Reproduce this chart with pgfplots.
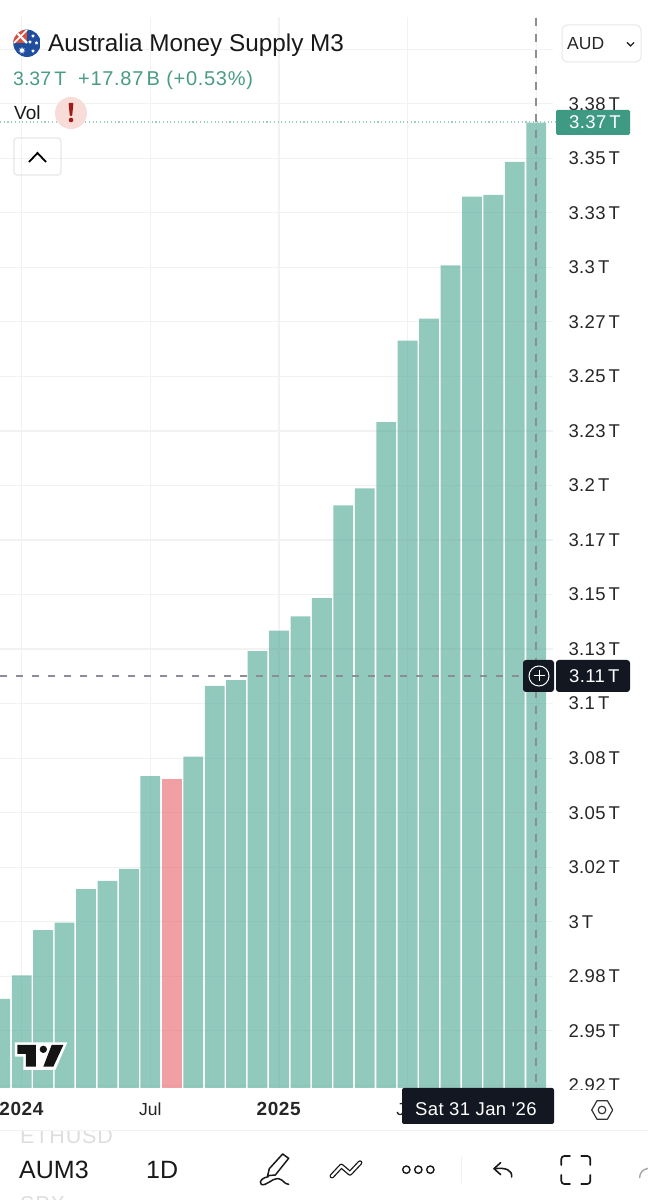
\documentclass[border=0pt]{standalone}
\usepackage{fontspec}
\setmainfont{Liberation Sans}
\newfontfamily\plainfont{Liberation Sans}
\usepackage{pgfplots}
\usepackage{pgfplotstable}
\pgfplotsset{compat=1.18}
\usetikzlibrary{shapes.geometric}

\definecolor{barup}{HTML}{4AA591}
\definecolor{bardown}{HTML}{E66167}
\definecolor{gridc}{HTML}{F2F2F3}
\definecolor{upgreen}{HTML}{4A9C85}
\definecolor{badge}{HTML}{3F9A84}
\definecolor{darkbox}{HTML}{131722}
\definecolor{crossc}{HTML}{8A8E96}
\definecolor{boxline}{HTML}{E6E7E9}
\definecolor{flagblue}{HTML}{1F4E9E}
\definecolor{flagred}{HTML}{D9503F}
\newcommand{\fs}[1]{\fontsize{#1}{#1}\selectfont}
\newcommand{\wide}[1]{\addfontfeatures{LetterSpace=#1}}

% month 0 = Jan 2024
\pgfplotstableread{
m v
-1 2.9646
0 2.9754
1 2.9962
2 2.9996
3 3.0150
4 3.0187
5 3.0242
6 3.0668
8 3.0757
9 3.1081
10 3.1108
11 3.1241
12 3.1334
13 3.1400
14 3.1484
15 3.1909
16 3.1987
17 3.2291
18 3.2664
19 3.2765
20 3.3009
21 3.3324
22 3.3332
23 3.3484
24 3.3663
}\upbars
\pgfplotstableread{
m v
7 3.0656
}\downbars

\begin{document}
\begin{tikzpicture}
\useasboundingbox (0pt,0pt) rectangle (648pt,1200pt);
\fill[white] (0pt,0pt) rectangle (648pt,1200pt);
\begin{axis}[
    at={(0pt,112pt)}, anchor=south west,
    scale only axis, width=553pt, height=1071pt,
    xmin=-1.012, xmax=24.78,
    ymin=2.92377, ymax=3.41478,
    ybar, bar width=19.8pt, bar shift=0pt,
    axis line style={draw=none},
    major tick length=0pt,
    grid=major, grid style={gridc, line width=1.2pt},
    xtick={0,6,12,18,24},
    xticklabels={{\fs{19}\wide{3}\textbf{2024}},Jul,{\fs{19}\wide{3}\textbf{2025}},Jul,},
    xticklabel style={font=\fs{17.5}, anchor=base, yshift=-28pt},
    ytick={2.925,2.95,2.975,3,3.025,3.05,3.075,3.1,3.125,3.15,3.175,3.2,3.225,3.25,3.275,3.3,3.325,3.35,3.375,3.4},
    yticklabels={2.92\,T,2.95\,T,2.98\,T,3\,T,3.02\,T,3.05\,T,3.08\,T,3.1\,T,3.13\,T,3.15\,T,3.17\,T,3.2\,T,3.23\,T,3.25\,T,3.27\,T,3.3\,T,3.33\,T,3.35\,T,3.38\,T,},
    ticklabel style={text=black!85},
    yticklabel pos=right,
    yticklabel style={font=\fs{18.5}\wide{2}, anchor=west, xshift=12pt},
]
\addplot[fill=barup, fill opacity=0.6, draw=none] table[x=m,y=v] {\upbars};
\addplot[fill=bardown, fill opacity=0.6, draw=none] table[x=m,y=v] {\downbars};
\end{axis}

\begin{scope}[shift={(0pt,1200pt)}, x=1pt, y=-1pt]
% last value and crosshair
\draw[barup!55, line width=1.1pt, dash pattern=on 1.1pt off 2.6pt] (0,122) -- (556,122);
\draw[crossc, line width=1.1pt, dash pattern=on 8pt off 8pt] (536,18) -- (536,1088);
\draw[crossc, line width=1.1pt, dash pattern=on 7pt off 9pt] (0,676) -- (523,676);

% price labels on the scale
\fill[badge, rounded corners=1.5pt] (556,110) rectangle (630,135);
\node[anchor=base west, inner sep=0, text=white, font=\fs{18.5}\wide{2}] at (569,129) {3.37\,T};
\fill[darkbox, rounded corners=3pt] (523,660) rectangle (554,692);
\fill[darkbox, rounded corners=3pt] (556,660) rectangle (630,692);
\draw[white, line width=1pt] (539,676) circle (10);
\draw[white, line width=1pt] (533.5,676) -- (544.5,676) (539,670.5) -- (539,681.5);
\node[anchor=base west, inner sep=0, text=white, font=\fs{18.5}\wide{2}] at (569,682.5) {3.11\,T};

% 2.92 T is cut off by the time scale
\fill[white] (560,1090) rectangle (640,1100);

% header
\begin{scope}
\clip (27,43.3) circle (13.7);
\fill[flagblue] (13,29) rectangle (41,57);
\fill[flagred] (13,29) rectangle (27,43);
\draw[white, line width=2.4pt] (14,30) -- (27,43);
\draw[white, line width=1.6pt] (14,43) -- (27,30);
\node[star, star points=7, star point ratio=2, fill=white, inner sep=0, minimum size=7pt] at (22,50.5) {};
\node[star, star points=5, fill=white, inner sep=0, minimum size=3.5pt] at (33,36) {};
\node[star, star points=5, fill=white, inner sep=0, minimum size=3.5pt] at (36.5,43) {};
\node[star, star points=5, fill=white, inner sep=0, minimum size=3.5pt] at (30,42) {};
\node[star, star points=5, fill=white, inner sep=0, minimum size=3.5pt] at (33,51) {};
\end{scope}
\node[anchor=base west, inner sep=0, text=black!90, font=\fs{24.3}] at (48,52) {Australia Money Supply M3};
\node[anchor=base west, inner sep=0, text=upgreen, font=\fs{19.5}] at (13,86) {3.37\,T};
\node[anchor=base west, inner sep=0, text=upgreen, font=\fs{20}\wide{3.5}] at (78,86) {+17.87\,B (+0.53\%)};
\node[anchor=base west, inner sep=0, text=black!90, font=\fs{19}] at (14,120) {Vol};
\fill[flagred!20] (71,113) circle (16);
\fill[red!60!black!90, rounded corners=0.8pt] (68.6,103) -- (73.4,103) -- (72.2,116) -- (69.8,116) -- cycle;
\fill[red!60!black!90] (71,120) circle (2.3);
\draw[boxline, line width=1.2pt, rounded corners=3pt] (14,138) rectangle (61,175);
\draw[black, line width=1.8pt] (29,162) -- (37.5,153) -- (46,162);
\draw[boxline, line width=1pt, rounded corners=5pt] (562,25) rectangle (641,62);
\node[anchor=base west, inner sep=0, text=black!85, font=\fs{17.5}] at (567,49.5) {AUD};
\draw[black!85, line width=1.4pt] (627,42.5) -- (630.5,46) -- (634,42.5);

% TradingView mark
\begin{scope}[shift={(0,1030)}, x=1/3*1pt, y=-1/3*1pt]
\fill[white] (45,37) -- (202,37) -- (166,120) -- (70,120) -- (70,80) -- (45,80) -- cycle;
\fill[black!92] (52,45) -- (108,45) -- (108,110) -- (78,110) -- (78,72) -- (52,72) -- cycle;
\fill[black!92] (155,45) -- (190,45) -- (160,110) -- (130,110) -- cycle;
\fill[black!92] (130,58) circle (11);
\end{scope}

% time label
\fill[darkbox, rounded corners=2pt] (402,1088) rectangle (554,1124);
\node[anchor=base west, inner sep=0, text=white, font=\plainfont\fs{18.5}\wide{2}] at (415,1116) {Sat 31 Jan \symbol{39}26};
\draw[black!80, line width=1.2pt, line join=round] (591.7,1110) -- (597,1100.8) -- (607.4,1100.8) -- (612.7,1110) -- (607.4,1119.2) -- (597,1119.2) -- cycle;
\draw[black!80, line width=1.2pt] (602,1110) circle (3.8);

% toolbar
\draw[gridc, line width=1pt] (0,1130.5) -- (648,1130.5);
\begin{scope}
\clip (0,1131.5) rectangle (120,1200);
\node[anchor=base west, inner sep=0, text=black!13, font=\fs{21.5}\wide{4}] at (20,1144) {ETHUSD};
\node[anchor=base west, inner sep=0, text=black!13, font=\fs{21.5}\wide{4}] at (20,1211) {SPX};
\end{scope}
\node[anchor=base west, inner sep=0, text=black!90, font=\fs{25}] at (19,1179) {AUM3};
\node[anchor=base west, inner sep=0, text=black!90, font=\fs{25}] at (146,1179) {1D};

\begin{scope}[shift={(0,1030)}, x=1/3*1pt, y=-1/3*1pt]
\draw[black!90, line width=1.5pt, line join=round, line cap=round] (848,372) -- (866,385) -- (826,435) -- (803,437) -- (808,416) -- cycle;
\draw[black!90, line width=1.5pt, line cap=round] (805,440) .. controls (775,445) and (775,470) .. (795,463) .. controls (815,455) and (825,438) .. (845,450) .. controls (855,458) and (860,465) .. (866,463);
\end{scope}

\begin{scope}[shift={(324,1030)}, x=1/3*1pt, y=-1/3*1pt]
\draw[black!90, line width=4.8pt, line cap=round, line join=round] (24,438) -- (52,408) -- (78,430) -- (108,398);
\draw[white, line width=2.2pt, line cap=round, line join=round] (24,438) -- (52,408) -- (78,430) -- (108,398);
\draw[black!90, line width=1.4pt] (247,419) circle (11) (283,419) circle (11) (319,419) circle (11);
\draw[gridc, line width=1pt] (411,380) -- (411,460);
\draw[black!90, line width=1.6pt, line cap=round, line join=round] (530,398) -- (510,416) -- (530,434);
\draw[black!90, line width=1.6pt, line cap=round] (512,416) .. controls (545,412) and (565,420) .. (563,441);
\draw[black!90, line width=1.7pt, line cap=round, rounded corners=3pt] (712,405) -- (712,378) -- (738,378);
\draw[black!90, line width=1.7pt, line cap=round, rounded corners=3pt] (772,378) -- (799,378) -- (799,405);
\draw[black!90, line width=1.7pt, line cap=round, rounded corners=3pt] (712,435) -- (712,462) -- (738,462);
\draw[black!90, line width=1.7pt, line cap=round, rounded corners=3pt] (772,462) -- (799,462) -- (799,435);
\draw[black!35, line width=1.4pt, line cap=round] (947,443) .. controls (947,430) and (955,418) .. (972,415);
\end{scope}
\end{scope}
\end{tikzpicture}
\end{document}
